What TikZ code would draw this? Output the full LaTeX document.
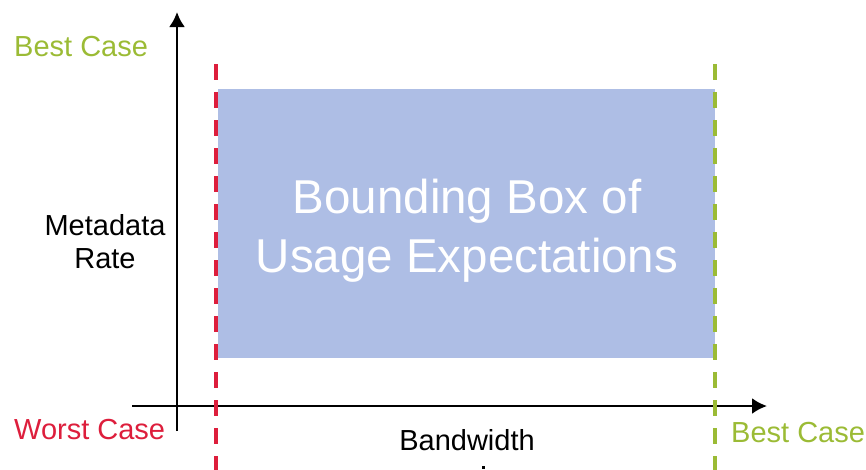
\documentclass[tikz,border=0pt]{standalone}
\usepackage{fontspec}
\setmainfont{Liberation Sans}
\usetikzlibrary{arrows.meta}
\definecolor{boxblue}{RGB}{174,190,229}
\definecolor{worstred}{RGB}{221,30,60}
\definecolor{bestgreen}{RGB}{155,187,53}
\tikzset{
  axis/.style={line width=2.5pt, -{Latex[length=15pt,width=16pt]}},
  limit/.style={line width=4pt, dash pattern=on 16pt off 12pt},
  lbl/.style={font=\fontsize{29}{33}\selectfont, inner sep=0pt},
}
\begin{document}
\begin{tikzpicture}[x=1pt,y=-1pt]
\useasboundingbox (0,0) rectangle (866,469);
\clip (0,0) rectangle (866,469);
% usage area
\fill[boxblue] (218,89) rectangle (715,358);
\node (usage) [inner sep=0pt, text=white, align=center,
  font=\fontsize{47.5}{59}\selectfont]
  at (467,231) {Bounding Box of\\Usage Expectations};
% axes
\coordinate (ybot) at (177,431);
\coordinate (ytop) at (177,12);
\coordinate (xleft) at (132,406);
\coordinate (xright) at (767,406);
\draw[axis] (ybot) -- (ytop);
\draw[axis] (xleft) -- (xright);
% limit lines
\coordinate (redtop) at (216,64);
\coordinate (redbot) at (216,475);
\coordinate (greentop) at (715,64);
\coordinate (greenbot) at (715,475);
\draw[limit, worstred] (redtop) -- (redbot);
\draw[limit, bestgreen] (greentop) -- (greenbot);
% labels
\node (ybest) [lbl, text=bestgreen, anchor=west] at (14,47) {Best Case};
\node (worst) [lbl, text=worstred, anchor=west] at (14,430) {Worst Case};
\node (xbest) [lbl, text=bestgreen, anchor=west] at (731,433) {Best Case};
\node (ylabel) [lbl, align=center] at (105,242) {Metadata\\Rate};
\node (xlabel) [lbl] at (467,440) {Bandwidth};
\fill (482,466) rectangle (485,469);
\end{tikzpicture}
\end{document}
